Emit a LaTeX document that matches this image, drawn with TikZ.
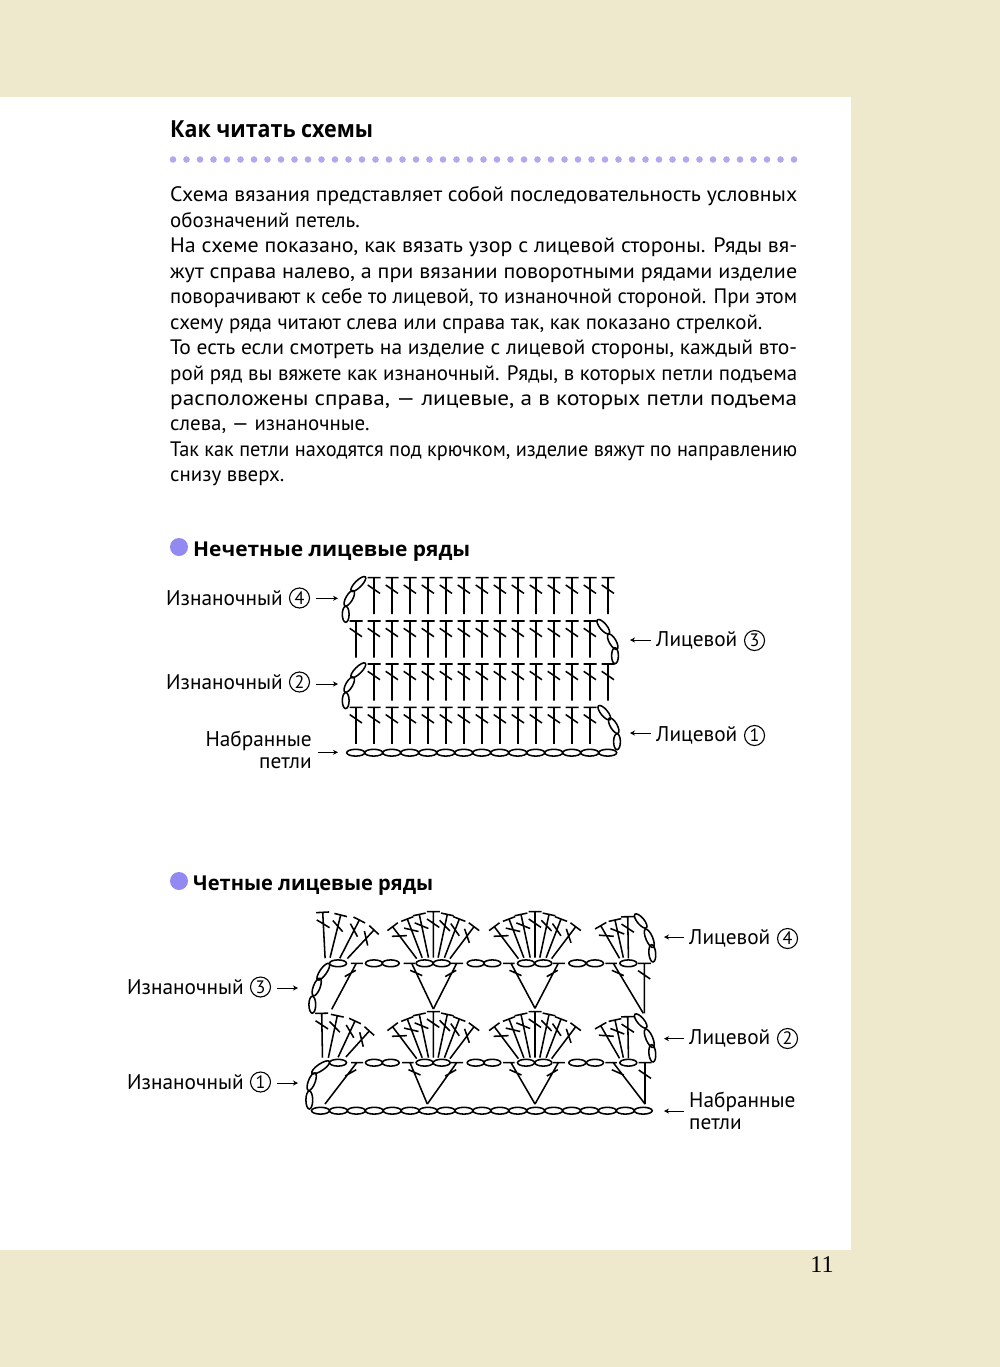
\documentclass[tikz,border=0pt]{standalone}
\usepackage{graphicx}
\usepackage{fontspec}
\setmainfont{PT Sans}
\newfontfamily\headfont{Open Sans}
\newfontfamily\pagefont{Liberation Serif}
\usetikzlibrary{arrows.meta, positioning}
\definecolor{pageband}{RGB}{238,232,205}
\definecolor{dotlilac}{RGB}{178,168,238}
\definecolor{bulletlilac}{RGB}{146,138,240}
\newcommand{\jline}[1]{\resizebox{627pt}{\height}{#1}}
\tikzset{
    stitch/.style={line width=1.55pt},
    pointer/.style={-{Stealth[length=5pt,width=5pt]}, line width=0.7pt},
    lab/.style={inner sep=0pt, align=left, font=\fontsize{21.3}{21.3}\selectfont},
    numring/.style={circle, draw, line width=1.1pt, inner sep=0pt, minimum size=20pt, font=\fontsize{18}{18}\selectfont},
    heading/.style={inner sep=0pt, anchor=base west, font=\fontsize{20.5}{20.5}\selectfont\headfont\bfseries},
    pics/dc/.style={code={
        \draw[stitch] (-6.5,0) -- (6.5,0) (0,0) -- (0,#1) (-6.3,7.3) -- (6,15.7);
    }},
    pics/ch/.style={code={
        \draw[stitch] (0,0) ellipse [x radius=#1, y radius=3.4];
    }},
    pics/legl/.style={code={
        \draw[stitch] (-5.5,0) -- (6.5,0) (0,0) -- (#1) (-11.5,13.3) -- (-0.5,7);
    }},
    pics/legr/.style={code={
        \draw[stitch] (-8,0) -- (3.5,0) (0,0) -- (#1) (-1.5,7) -- (10.5,12.3);
    }},
    pics/fan/.style={code={
        \foreach \tx/\ty/\ang/\len in {-40.7/15/37/40, -26/7.3/21/41.5, -14/2.7/12/44.2, 0/0/0/46,
            14/2.7/-12/44.2, 26/7.3/-21/41.5, 40.7/15/-37/40}
            \pic[rotate=\ang] at (\tx,\ty) {dc=\len};
    }}
}
\begin{document}
\begin{tikzpicture}[x=1pt, y=-1pt]
\useasboundingbox (0,0) rectangle (1000,1367);

% Page
\fill[pageband] (0,0) rectangle (1000,1367);
\fill[white] (0,97) rectangle (851,1250);

% Title and text
\node[inner sep=0pt, anchor=base west, font=\fontsize{23.5}{23.5}\selectfont\headfont\bfseries] (title) at (170,138) {\resizebox{203pt}{\height}{Как читать схемы}};
\foreach \k in {0,...,46}
    \fill[dotlilac] ({173+13.5*\k},159.5) circle [radius=3.3];
\node[inner sep=0pt, anchor=north west, align=left, font=\fontsize{20.9}{25.45}\selectfont] (bodytext) at (170,186.5) {%
\jline{Схема вязания представляет собой последовательность условных}\\
обозначений петель.\\
\jline{На схеме показано, как вязать узор с лицевой стороны. Ряды вя-}\\
\jline{жут справа налево, а при вязании поворотными рядами изделие}\\
\jline{поворачивают к себе то лицевой, то изнаночной стороной. При этом}\\
схему ряда читают слева или справа так, как показано стрелкой.\\
\jline{То есть если смотреть на изделие с лицевой стороны, каждый вто-}\\
\jline{рой ряд вы вяжете как изнаночный. Ряды, в которых петли подъема}\\
\jline{расположены справа, --- лицевые, а в которых петли подъема}\\
слева, --- изнаночные.\\
\jline{Так как петли находятся под крючком, изделие вяжут по направлению}\\
снизу вверх.};
\node[inner sep=0pt, font=\fontsize{24}{24}\selectfont\pagefont] (pagenum) at (822,1265) {11};

% Odd rows
\fill[bulletlilac] (179,547) circle [radius=9];
\node[heading] (oddhead) at (193,556) {\resizebox{277pt}{\height}{Нечетные лицевые ряды}};
\foreach \ty in {577.7,664}
    \foreach \k in {0,...,13}
        \pic at ({374+18*\k},\ty) {dc=36.5};
\foreach \ty in {621,707.3}
    \foreach \k in {0,...,13}
        \pic at ({356+18*\k},\ty) {dc=36.5};
\foreach \k in {0,...,14}
    \pic at ({355.7+18*\k},752.7) {ch=9};
\foreach \cx/\cy/\ang/\len in {358.3/584/45/10, 349.3/598.3/60/8.7, 345.7/614.3/90/8,
    358.3/670.3/45/10, 349.3/684.6/60/8.7, 345.7/700.6/90/8,
    603.3/626.7/-50/9, 612.7/641.7/-60/8.7, 615/655.7/-90/8,
    604.3/712.7/-50/9, 613.7/725.7/-60/8.7, 617/741.7/-90/8}
    \pic[rotate=\ang] at (\cx,\cy) {ch=\len};

% Even rows
\fill[bulletlilac] (179,881) circle [radius=9];
\node[heading] (evenhead) at (193,890) {\resizebox{240pt}{\height}{Четные лицевые ряды}};
\foreach \dy in {0,100} {
    \pic at (433.3,911.7+\dy) {fan};
    \pic at (535,911.7+\dy) {fan};
    \foreach \tx/\ty/\ang/\len in {600.7/925.7/30/37.6, 615/920/12.5/38.6, 627.7/916.7/1/41.7}
        \pic[rotate=\ang] at (\tx,\ty+\dy) {dc=\len};
    \foreach \cx/\cy/\ang/\len in {640.7/921/-50/8.9, 649.3/938.3/-67/9.9, 652.3/953.3/-85/8.7}
        \pic[rotate=\ang] at (\cx,\cy+\dy) {ch=\len};
}
\foreach \cy in {963.3,1062.7}
    \foreach \cx in {338,374,390.7,424.6,441.7,475.7,492.3,526,543.3,577.3,595,628.3}
        \pic at (\cx,\cy) {ch=8.5};
\foreach \tx/\ty/\ang/\len in {322.7/912.3/3/46, 340.7/915/-14/44, 359.3/920/-27/43, 374/930/-43/39,
    321.7/1013.3/1/44.4, 337.3/1015.7/-12/43, 355/1021/-25/40, 369.3/1031/-42/35}
    \pic[rotate=\ang] at (\tx,\ty) {dc=\len};
\foreach \cx/\cy/\ang/\len in {323.3/971.7/55/10, 316.7/987/69/9.3, 312.3/1004.7/90/8.5,
    320.7/1067.3/34/10.5, 311.7/1081.7/69/9.4, 309.3/1100/90/9}
    \pic[rotate=\ang] at (\cx,\cy) {ch=\len};
% legs under the shells
\pic at (356.3,963.3) {legl={-24.6,46}};
\pic at (411.7,963.3) {legr={21.7,45.7}};
\pic at (456.7,963.3) {legl={-23.3,45.7}};
\pic at (511,963.3) {legr={24,45}};
\pic at (558.3,963.3) {legl={-23.3,45}};
\pic at (613.3,963.3) {legr={30,50}};
\pic at (644.3,963.3) {dc=50};
\pic at (356.7,1062.7) {legl={-31.7,41.3}};
\pic at (410,1062.7) {legr={17.3,41.3}};
\pic at (456.7,1062.7) {legl={-29.4,41.3}};
\pic at (511,1062.7) {legr={24,41.3}};
\pic at (558.3,1062.7) {legl={-23.3,41.3}};
\pic at (613.3,1062.7) {legr={31.7,41.3}};
\pic at (645,1062.7) {dc=41.3};
\foreach \k in {0,...,18}
    \pic at ({320.5+17.93*\k},1110.7) {ch=9};

% Labels
\node[numring] (izn4) at (299.5,598) {4};
\node[lab, left=6pt of izn4] (izn4txt) {Изнаночный};
\node[numring] (izn2) at (299.5,682) {2};
\node[lab, left=6pt of izn2] (izn2txt) {Изнаночный};
\node[lab, anchor=east, align=right] (nabtop) at (312,750) {Набранные\\петли};
\node[lab, anchor=west] (lic3txt) at (656,640.5) {Лицевой};
\node[numring, right=6.5pt of lic3txt] (lic3) {3};
\node[lab, anchor=west] (lic1txt) at (656,735.5) {Лицевой};
\node[numring, right=6.5pt of lic1txt] (lic1) {1};
\node[numring] (izn3) at (260.5,987) {3};
\node[lab, left=6pt of izn3] (izn3txt) {Изнаночный};
\node[numring] (izn1) at (260.5,1082) {1};
\node[lab, left=6pt of izn1] (izn1txt) {Изнаночный};
\node[lab, anchor=west] (lic4txt) at (689,938.5) {Лицевой};
\node[numring, right=6.5pt of lic4txt] (lic4) {4};
\node[lab, anchor=west] (lic2txt) at (689,1038.5) {Лицевой};
\node[numring, right=6.5pt of lic2txt] (lic2) {2};
\node[lab, anchor=west] (nabbot) at (689,1111) {Набранные\\петли};

% Arrows
\coordinate (izn4t) at (338,598.3);
\coordinate (izn2t) at (338,684);
\coordinate (nabtopt) at (338,752.3);
\coordinate (lic3t) at (630,640);
\coordinate (lic1t) at (630,733);
\coordinate (izn3t) at (298,988);
\coordinate (izn1t) at (298,1083);
\coordinate (lic4t) at (664,937);
\coordinate (lic2t) at (664,1038.7);
\coordinate (nabbott) at (664,1111);
\foreach \lab in {izn4,izn2,nabtop,izn3,izn1}
    \draw[pointer, shorten <=6pt] (\lab.east |- \lab t) -- (\lab t);
\foreach \lab/\txt in {lic3/lic3txt,lic1/lic1txt,lic4/lic4txt,lic2/lic2txt,nabbot/nabbot}
    \draw[pointer, shorten <=5pt] (\txt.west |- \lab t) -- (\lab t);

\end{tikzpicture}
\end{document}
